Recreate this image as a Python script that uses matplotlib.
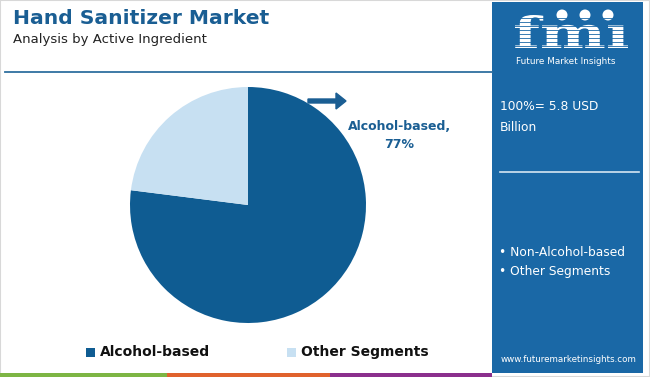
import matplotlib
matplotlib.use("Agg")
import matplotlib.pyplot as plt
from matplotlib.patches import Rectangle, FancyArrow, Ellipse, PathPatch
from matplotlib.lines import Line2D
from matplotlib.textpath import TextPath
from matplotlib.font_manager import FontProperties
from matplotlib.transforms import Affine2D

categories = ["Alcohol-based", "Other Segments"]
shares = [77, 23]
colors = ["#0F5C92", "#C7E0F2"]
title = "Hand Sanitizer Market"
subtitle = "Analysis by Active Ingredient"
total_text = "100%= 5.8 USD\nBillion"
panel_items = ["• Non-Alcohol-based", "• Other Segments"]

W, H = 650, 377
fig = plt.figure(figsize=(W / 100, H / 100), dpi=100)
fig.patch.set_facecolor("white")

def fx(x):
    return x / W

def fy(y):
    return 1 - y / H

# border
fig.add_artist(Rectangle((0, 0), 1, 1, transform=fig.transFigure, fill=False,
                         edgecolor="#D8D8D8", linewidth=1.5))

# right panel
panel_color = "#1A68A6"
fig.add_artist(Rectangle((fx(492), fy(373)), fx(643 - 492), (373 - 2) / H,
                         transform=fig.transFigure, facecolor=panel_color, edgecolor="none"))

# bottom coloured strip
for x0, x1, c in [(0, 167, "#7DB544"), (167, 330, "#E0622D"), (330, 492, "#8B2F8D")]:
    fig.add_artist(Rectangle((fx(x0), 0), fx(x1 - x0), 4 / H, transform=fig.transFigure,
                             facecolor=c, edgecolor="none"))

# header line
fig.add_artist(Line2D([fx(5), fx(492)], [fy(72), fy(72)], transform=fig.transFigure,
                      color="#2F6F9F", linewidth=1.3))

# titles
fig.text(fx(13), fy(18), title, fontsize=14.6, fontweight="bold", color="#1A5E93",
         va="center", ha="left")
fig.text(fx(13), fy(39), subtitle, fontsize=9.5, color="#222222", va="center", ha="left")

# pie
cx, cy, r = 248, 205, 118
ax = fig.add_axes([fx(cx - r), fy(cy + r), 2 * r / W, 2 * r / H])
ax.pie(shares, colors=colors, startangle=90, counterclock=False,
       wedgeprops=dict(linewidth=0))
ax.set_xlim(-1, 1)
ax.set_ylim(-1, 1)
ax.set_aspect("equal")
ax.axis("off")

# annotation
fig.add_artist(FancyArrow(fx(308), fy(101), fx(28), 0, width=4 / H, head_width=16 / H,
                          head_length=fx(10), transform=fig.transFigure,
                          color="#1A5E93", length_includes_head=False))
fig.text(fx(399), fy(127), f"{categories[0]},", fontsize=9, fontweight="bold",
         color="#1A5E93", ha="center", va="center")
fig.text(fx(399), fy(145), f"{shares[0]}%", fontsize=9, fontweight="bold",
         color="#1A5E93", ha="center", va="center")

# legend
leg_y = 352
for x0, lab, c in [(86, categories[0], colors[0]), (287, categories[1], colors[1])]:
    fig.add_artist(Rectangle((fx(x0), fy(leg_y + 4.5)), fx(9), 9 / H, transform=fig.transFigure,
                             facecolor=c, edgecolor="none"))
    fig.text(fx(x0 + 14), fy(leg_y), lab, fontsize=10, fontweight="bold", color="#111111",
             ha="left", va="center")

# logo
tp = TextPath((0, 0), "fmı", size=1, prop=FontProperties(family="DejaVu Serif", weight="bold"))
ext = tp.get_extents()
sx = 113 / ext.width
sy = 33 / ext.height
logo_tr = Affine2D().translate(-ext.x0, -ext.y0).scale(sx, sy).translate(515, H - 48)
fig.add_artist(PathPatch(tp, transform=logo_tr, facecolor="white", edgecolor="none"))
for yy in range(18, 48, 4):
    fig.add_artist(Line2D([fx(510), fx(632)], [fy(yy), fy(yy)], transform=fig.transFigure,
                          color=panel_color, linewidth=0.6))
for x in [562, 585, 608]:
    fig.add_artist(Ellipse((fx(x), fy(15)), 11 / W, 11 / H, transform=fig.transFigure,
                           facecolor="white", edgecolor="none"))
fig.text(fx(566), fy(62), "Future Market Insights", fontsize=6.4, color="white",
         ha="center", va="center")

# panel texts
fig.text(fx(500), fy(117), total_text, fontsize=8.8, color="white", ha="left", va="center",
         linespacing=1.8)
fig.add_artist(Line2D([fx(500), fx(639)], [fy(172), fy(172)], transform=fig.transFigure,
                      color="#D5E5F2", linewidth=1.2))
for i, t in enumerate(panel_items):
    fig.text(fx(499), fy(252 + 19 * i), t, fontsize=8.8, color="white", ha="left", va="center")
fig.text(fx(569), fy(360), "www.futuremarketinsights.com", fontsize=6.3, color="white",
         ha="center", va="center")

fig.savefig("out.png", dpi=100, facecolor="white")
